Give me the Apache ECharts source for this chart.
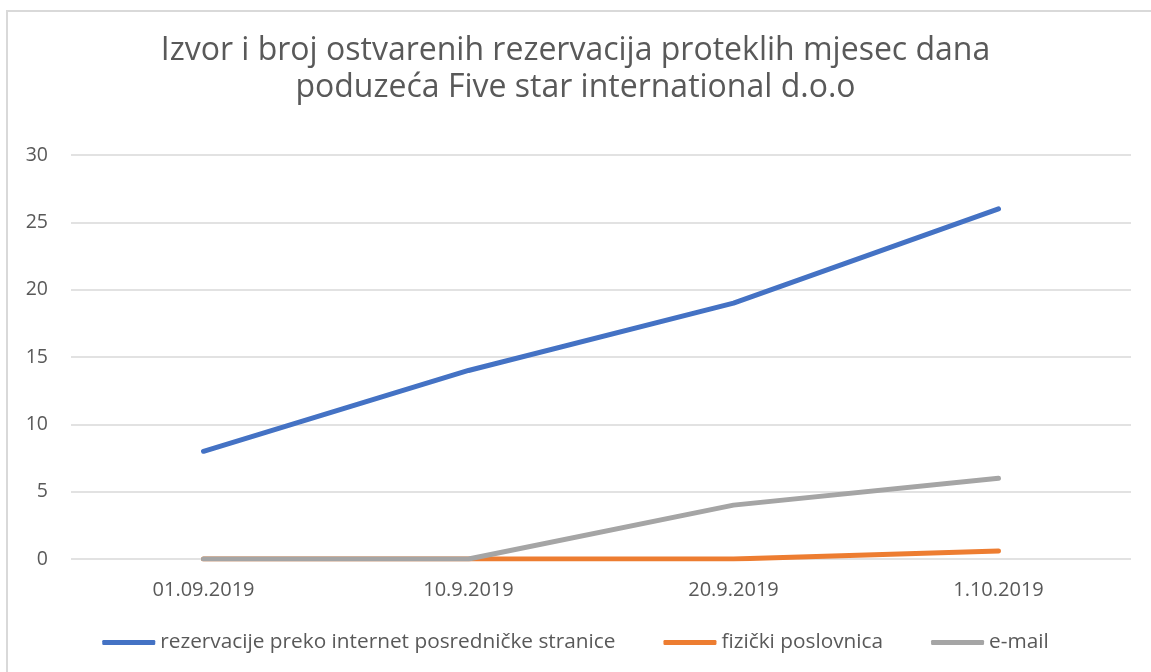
<!DOCTYPE html>
<html>
<head>
<meta charset="utf-8">
<script src="https://cdn.jsdelivr.net/npm/echarts@6/dist/echarts.min.js"></script>
<style>
  html, body { margin: 0; padding: 0; overflow: hidden; background: #fff; }
  .frame {
    position: absolute; left: 6px; top: 10px;
    width: 1170px; height: 690px;
    border: 2px solid #d9d9d9;
  }
  #echart { position: absolute; left: 0; top: 0; width: 1151px; height: 672px; }
</style>
</head>
<body>
<div class="frame"></div>
<div id="echart"></div>
<script>
  // podaci
  const categories = ["01.09.2019", "10.9.2019", "20.9.2019", "1.10.2019"];
  const internetData = [8, 14, 19, 26];
  const fizickiData = [0, 0, 0, 0.6];
  const emailData = [0, 0, 4, 6];
  const seriesNames = [
    "rezervacije preko internet posredničke stranice",
    "fizički poslovnica",
    "e-mail"
  ];
  const colors = ["#4472c4", "#ed7d31", "#a5a5a5"];

  let myChart = echarts.init(document.getElementById("echart"));

  const lineSeries = (name, data, color) => ({
    name: name,
    type: "line",
    data: data,
    symbol: "none",
    color: color,
    lineStyle: { width: 5, color: color, cap: "round", join: "round" }
  });

  let option = {
    animation: false,
    textStyle: { fontFamily: "Open Sans", color: "#595959" },
    title: {
      text: "Izvor i broj ostvarenih rezervacija proteklih mjesec dana\npoduzeća Five star international d.o.o",
      left: "center",
      top: 27,
      textStyle: {
        fontFamily: "Open Sans",
        fontSize: 32,
        fontWeight: "normal",
        color: "#595959",
        lineHeight: 37
      }
    },
    legend: {
      bottom: 14,
      left: "center",
      itemWidth: 53,
      itemHeight: 5,
      itemGap: 48,
      icon: "roundRect",
      textStyle: { fontSize: 20.8, color: "#595959", fontFamily: "Open Sans" },
      data: seriesNames
    },
    grid: { left: 71, right: 20, top: 155, bottom: 113 },
    xAxis: {
      type: "category",
      data: categories,
      axisLine: { show: false },
      axisTick: { show: false },
      axisLabel: { fontSize: 20, color: "#595959", margin: 21 }
    },
    yAxis: {
      type: "value",
      min: 0,
      max: 30,
      interval: 5,
      axisLabel: { fontSize: 19.5, color: "#595959", margin: 23 },
      splitLine: { lineStyle: { color: "#d9d9d9", width: 1.5 } }
    },
    series: [
      lineSeries(seriesNames[0], internetData, colors[0]),
      lineSeries(seriesNames[1], fizickiData, colors[1]),
      lineSeries(seriesNames[2], emailData, colors[2])
    ]
  };

  myChart.setOption(option);
</script>
</body>
</html>
